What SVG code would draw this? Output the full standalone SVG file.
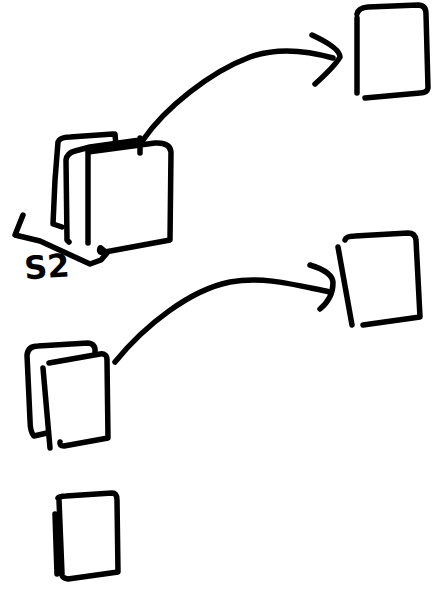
<svg xmlns="http://www.w3.org/2000/svg" width="432" height="590" viewBox="0 0 432 590">
<style>
.s{fill:none;stroke:#000;stroke-width:5.5;stroke-linecap:round;stroke-linejoin:round}
.t{font-family:"DejaVu Sans","Liberation Sans",sans-serif;font-size:32px;font-weight:bold;fill:#000}
</style>
<rect width="432" height="590" fill="#fff"/>
<g id="stack1">
<path class="s" d="M62,227 L53,224 L55,180 L58,142 Q60,137 70,137 L113,134 M115,134 L116,146"/>
<path class="s" d="M69,242 L67,240 L66,160 Q67,153 75,151 L90,147 L140,140 M140,138 L140,153"/>
<path class="s" d="M88,150 L88,243 M88,152 L155,143 Q170,142 171,152 L170,240 L105,252 Q98,254 100,248"/>
<path class="s" d="M23,215 L15,235 L40,241 L90,264 L101,260 L107,253 L101,248"/>
<text class="t" x="24" y="278" transform="rotate(-4 45 266)">S2</text>
</g>
<g id="box1">
<path class="s" d="M357,93 L357,18 M357,14 Q358,8 368,7 L418,5 Q426,5 426,14 L428,88 Q427,93 420,93 L365,98"/>
</g>
<g id="box2">
<path class="s" d="M338,247 L352,325 M345,240 Q346,236 355,236 L408,233 Q415,233 416,240 L420,317 L363,325"/>
</g>
<g id="stack2">
<path class="s" d="M47,433 L34,436 Q30,432 30,420 L27,355 Q28,346 38,346 L88,343 Q96,344 95,352"/>
<path class="s" d="M49,363 L100,354 Q107,353 107,360 L108,438 L64,446 Q59,446 60,442 M43,368 L50,448"/>
</g>
<g id="box3">
<path class="s" d="M58,498 Q59,496 66,496 L112,493 Q117,493 117,500 L118,572 L68,579 Q61,578 62,573 L59,500 M55,514 L57,574"/>
</g>
<g id="connectors">
<path class="s" d="M143,140 C165,108 210,72 250,57 C275,48 305,50 333,58"/>
<path class="s" d="M312,35 Q340,48 340,57 Q335,66 315,84"/>
<path class="s" d="M115,362 C145,325 190,290 230,282 C265,276 295,285 330,292"/>
<path class="s" d="M310,265 Q333,272 333,283 Q333,298 320,309"/>
</g>
</svg>
